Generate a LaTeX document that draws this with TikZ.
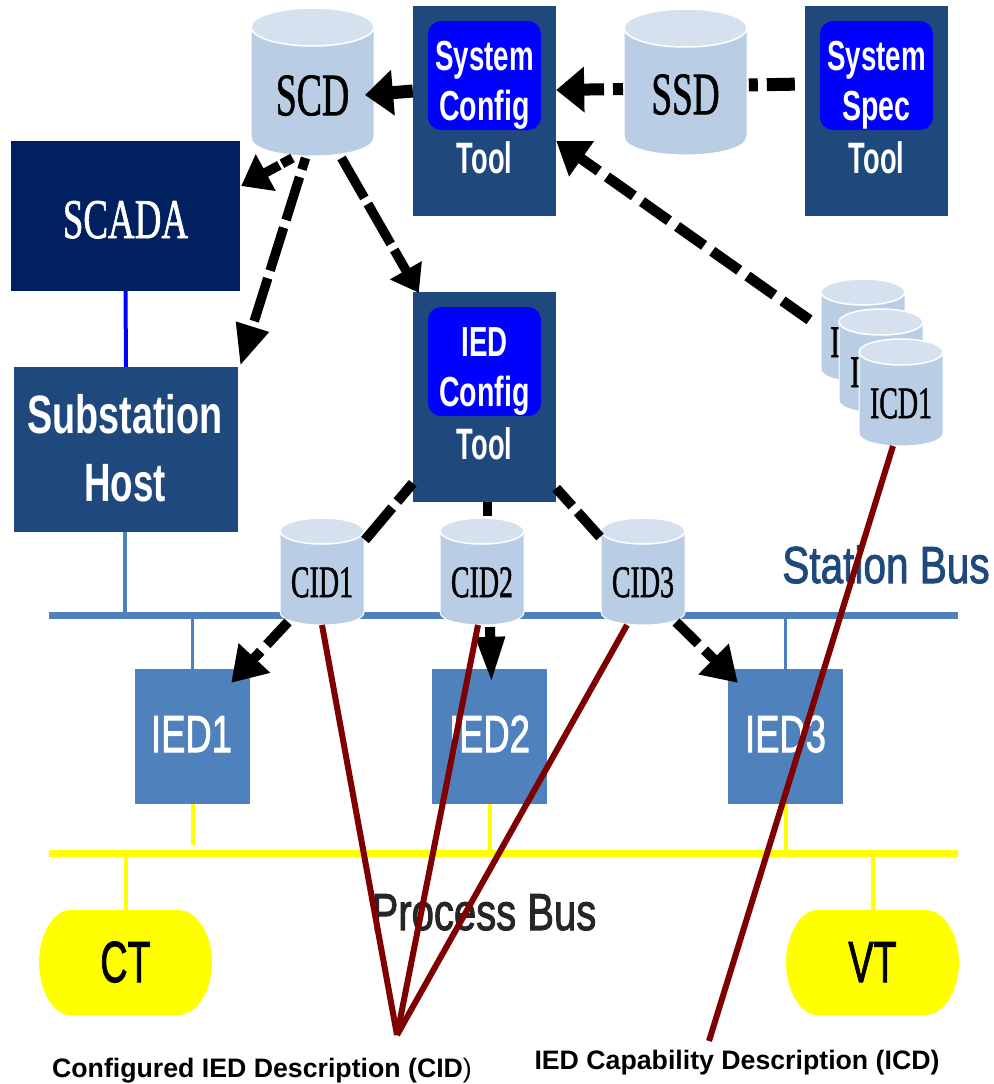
\documentclass[tikz,border=0pt]{standalone}
\usepackage{fontspec}
\usepackage{graphicx}
\setmainfont{Liberation Sans}
\newfontfamily\tnr[FakeBold=1.4]{Liberation Serif}
\newfontfamily\semisans[FakeBold=2]{Liberation Sans}
\usetikzlibrary{arrows.meta}
\definecolor{navyb}{HTML}{1F497D}
\definecolor{darkn}{HTML}{002060}
\definecolor{iedb}{HTML}{4F81BD}
\definecolor{cylb}{HTML}{B9CDE5}
\definecolor{cylt}{HTML}{D6E1F0}
\definecolor{maroonl}{HTML}{7F0000}
\definecolor{busyellow}{HTML}{FFFF00}
\definecolor{pureblue}{HTML}{0000FF}
\newcommand{\nar}[3]{\fontsize{#1}{#1}\selectfont\bfseries\scalebox{#2}[1]{#3}}
\newcommand{\nrr}[3]{\semisans\fontsize{#1}{#1}\selectfont\scalebox{#2}[1]{#3}}
\newcommand{\ser}[3]{\tnr\fontsize{#1}{#1}\selectfont\scalebox{#2}[1]{#3}}
% name, cx, top, bottom, rx, ry, label
\newcommand{\dbcyl}[7]{%
  \fill[cylb,draw=white,line width=1pt] ({#2-#5},{#3+#6}) -- ({#2-#5},{#4-#6})
     .. controls ({#2-#5},{#4+#6*0.33}) and ({#2+#5},{#4+#6*0.33}) .. ({#2+#5},{#4-#6})
     -- ({#2+#5},{#3+#6}) -- cycle;
  \fill[cylt,draw=white,line width=1.5pt] (#2,{#3+#6}) ellipse [x radius=#5pt,y radius=#6pt];
  \node[cylnode,minimum width={2*#5pt},minimum height={(#4-#3)*1pt}] (#1) at (#2,{(#3+#4)/2}) {};
  \node[cyltext] (#1t) at (#2,{#4-2.15*#6}) {#7};
}
% name, cx, label
\newcommand{\instrument}[3]{%
  \fill[busyellow] ({#2-55},910) -- ({#2+52},910)
    .. controls ({#2+74},910) and ({#2+86.5},938) .. ({#2+86.5},962.5)
    .. controls ({#2+86.5},987) and ({#2+74},1015) .. ({#2+52},1015)
    -- ({#2-55},1015)
    .. controls ({#2-74},1015) and ({#2-86.5},987) .. ({#2-86.5},962.5)
    .. controls ({#2-86.5},938) and ({#2-74},910) .. ({#2-55},910) -- cycle;
  \node[inner sep=0pt,minimum width=173pt,minimum height=105pt] (#1) at (#2,962.5) {};
  \node[basetext,text=black] (#1t) at (#2,982) {#3};
}
\tikzset{
  x=1pt,y=-1pt,
  cylnode/.style={inner sep=0pt,outer sep=0pt},
  cyltext/.style={inner sep=0pt,outer sep=0pt,text=black,anchor=base},
  basetext/.style={inner sep=0pt,anchor=base,text=white},
  toolbox/.style={fill=navyb,draw=none,inner sep=0pt,minimum width=143pt,minimum height=210pt},
  innerbox/.style={fill=pureblue,rounded corners=13pt,inner sep=0pt,minimum width=113pt,minimum height=109pt},
  iedbox/.style={fill=iedb,inner sep=0pt,minimum width=115pt,minimum height=135pt},
  stationline/.style={draw=iedb,line width=3.5pt},
  stationbus/.style={draw=iedb,line width=7pt},
  processline/.style={draw=busyellow,line width=4pt},
  processbus/.style={draw=busyellow,line width=7pt},
  flow/.style 2 args={draw=black,line width=9.5pt,-{Triangle[length=#1pt,width=#2pt]}},
  flowplain/.style={draw=black,line width=9.5pt},
  callout/.style={draw=maroonl,line width=6pt},
  caption/.style={inner sep=0pt,anchor=base,text=black,font=\fontsize{26.7}{27}\selectfont\bfseries},
}
\begin{document}
\begin{tikzpicture}
\useasboundingbox (0,0) rectangle (993,1084);
% buses
\coordinate (sbL) at (49,615); \coordinate (sbR) at (958,615);
\coordinate (pbL) at (49,853); \coordinate (pbR) at (958,853);
% boxes
\node[fill=darkn,inner sep=0pt,minimum width=229pt,minimum height=150pt] (scada) at (125.5,216) {};
\node[basetext] (scadat) at (125.5,238) {\ser{56}{.66}{SCADA}};
\node[fill=navyb,inner sep=0pt,minimum width=224pt,minimum height=165pt] (host) at (126,449.5) {};
\node[basetext] (hostA) at (125,433) {\nar{54}{.70}{Substation}};
\node[basetext] (hostB) at (125,501) {\nar{54}{.68}{Host}};
\draw[draw=pureblue,line width=4pt] (scada.south) -- (host.north);
\draw[stationline] ([xshift=-1pt]host.south) -- ([xshift=-1pt]host.south |- sbL);
\draw[stationbus] (sbL) -- (sbR);
\draw[processbus] (pbL) -- (pbR);

\node[toolbox] (sct) at (484.5,111) {};
\node[innerbox] (sctin) at (484.5,75.5) {};
\node[basetext] (scta) at (484.5,70) {\nar{42}{.66}{System}};
\node[basetext] (sctb) at (484.5,120) {\nar{42}{.68}{Config}};
\node[basetext] (sctt) at (484.5,173) {\nar{44}{.62}{Tool}};
\node[toolbox] (sst) at (876.5,111) {};
\node[innerbox] (sstin) at (876.5,75.5) {};
\node[basetext] (ssta) at (876.5,70) {\nar{42}{.66}{System}};
\node[basetext] (sstb) at (876.5,120) {\nar{42}{.68}{Spec}};
\node[basetext] (sstt) at (876.5,173) {\nar{44}{.62}{Tool}};
\node[toolbox] (ict) at (484.5,397) {};
\node[innerbox] (ictin) at (484.5,361.5) {};
\node[basetext] (icta) at (484.5,356) {\nar{42}{.66}{IED}};
\node[basetext] (ictb) at (484.5,406) {\nar{42}{.68}{Config}};
\node[basetext] (ictt) at (484.5,459) {\nar{44}{.62}{Tool}};

\node[iedbox] (ied1) at (192.5,736.5) {};
\node[iedbox] (ied2) at (489.5,736.5) {};
\node[iedbox] (ied3) at (785.5,736.5) {};
\node[basetext] (ied1t) at (191.5,752) {\nrr{52}{.70}{IED1}};
\node[basetext] (ied2t) at (489.5,752) {\nrr{52}{.70}{IED2}};
\node[basetext] (ied3t) at (785.5,752) {\nrr{52}{.70}{IED3}};
\draw[stationline] (ied1.north) -- (ied1.north |- sbL);
\draw[stationline] (ied3.north) -- (ied3.north |- sbL);
\draw[processline] (ied1.south) -- ++(0,41);
\draw[processline] (ied2.south) -- (ied2.south |- pbL);
\draw[processline] (ied3.south) -- (ied3.south |- pbL);

\instrument{ct}{125.5}{\nrr{58}{.65}{CT}}
\instrument{vt}{872.5}{\nrr{58}{.65}{VT}}
\draw[processline] (ct.north) -- (ct.north |- pbL);
\draw[processline] (vt.north) -- (vt.north |- pbL);

\node[basetext,text=black!85] (pblabel) at (484,930) {\nrr{52}{.77}{Process Bus}};
\node[basetext,text=navyb] (sblabel) at (886,583) {\nrr{52}{.78}{Station Bus}};

% cylinders
\dbcyl{scd}{312.5}{8}{156}{61.5}{19}{\ser{60}{.63}{SCD}}
\dbcyl{ssd}{685.5}{9}{155}{61.5}{19}{\ser{60}{.62}{SSD}}
\dbcyl{cid1}{322}{518}{625}{42}{13}{\ser{45}{.62}{CID1}}
\dbcyl{cid2}{482}{518}{625}{42}{13}{\ser{45}{.62}{CID2}}
\dbcyl{cid3}{643}{518}{625}{42}{13}{\ser{45}{.62}{CID3}}
\dbcyl{icdc}{863}{279}{382}{42}{13}{}
\node[cyltext] (icdct) at (835,357) {\ser{45}{.62}{I}};
\dbcyl{icdb}{881}{309}{413}{42}{13}{}
\node[cyltext] (icdbt) at (855,387) {\ser{45}{.62}{I}};
\dbcyl{icda}{901}{339}{446}{42}{13}{\ser{45}{.62}{ICD1}}

% dashed flows
\draw[flow={28}{44},line width=13pt] (sct.west |- 0,91) -- ([xshift=-9pt]scd.east |- 0,95);
\draw[flow={28}{44},line width=12pt,dash pattern=on 10pt off 9pt on 70pt off 0pt] ([xshift=-1pt]ssd.west |- 0,89) -- (sct.east |- 0,90);
\draw[flowplain,line width=13pt,dash pattern=on 0pt off 10pt on 28pt off 9pt on 9pt off 100pt] (sst.west |- 0,84) -- (ssd.east |- 0,85);
\draw[flow={28}{40},dash pattern=on 12pt off 3pt on 70pt off 0pt] ([xshift=-20pt,yshift=-2pt]scd.south) -- ([xshift=1pt,yshift=30pt]scada.east);
\draw[flow={41}{32},dash pattern=on 45pt off 8pt,dash phase=33pt] ([xshift=-7pt,yshift=-2pt]scd.south) -- ([xshift=2pt,yshift=1pt]host.north east);
\draw[flow={26}{35},dash pattern=on 46pt off 7pt] ([xshift=29pt,yshift=-2pt]scd.south) -- ([xshift=6pt,yshift=-1pt]ict.north west);
\draw[flow={31}{41},line width=10.5pt,dash pattern=on 33pt off 10pt,dash phase=35pt] ([xshift=-5pt,yshift=6pt]icdc.west) -- ([yshift=-30pt]sct.east);
\draw[flowplain,line width=10pt,dash pattern=on 24pt off 8pt on 50pt off 0pt] ([yshift=19pt]ict.south west) -- ([xshift=1pt,yshift=-22pt]cid1.north east);
\draw[flowplain] (ict.south -| cid2.north) ++(5.5,0) -- ++(0,14);
\draw[flowplain,line width=10pt,dash pattern=on 24pt off 8pt on 50pt off 0pt] ([yshift=14pt]ict.south east) -- ([xshift=-1pt,yshift=-19pt]cid3.north west);
\draw[flow={34}{41},line width=10pt,dash pattern=on 31pt off 9pt on 60pt off 0pt] ([xshift=-34pt,yshift=3pt]cid1.south) -- ([xshift=-19pt,yshift=-14pt]ied1.north east);
\draw[flow={46}{27},line width=10pt] ([xshift=8pt,yshift=-2pt]cid2.south) -- ([xshift=2pt,yshift=-14pt]ied2.north);
\draw[flow={34}{41},line width=10pt,dash pattern=on 31pt off 9pt on 60pt off 0pt] ([xshift=33pt,yshift=3pt]cid3.south) -- ([xshift=10pt,yshift=-14pt]ied3.north west);

% callouts
\coordinate (cidjoin) at (397,1035);
\coordinate (icdend) at (709,1041);
\draw[callout] (cid1.south) -- (cidjoin);
\draw[callout] ([xshift=-4pt]cid2.south) -- (cidjoin);
\draw[callout] ([xshift=-16pt]cid3.south) -- (cidjoin);
\draw[callout] ([xshift=-8pt]icda.south) -- (icdend);

\node[caption] (cidcap) at (262,1077) {Configured IED Description (CID{\mdseries)}};
\node[caption] (icdcap) at (737,1069) {IED Capability Description (ICD)};
\end{tikzpicture}
\end{document}
